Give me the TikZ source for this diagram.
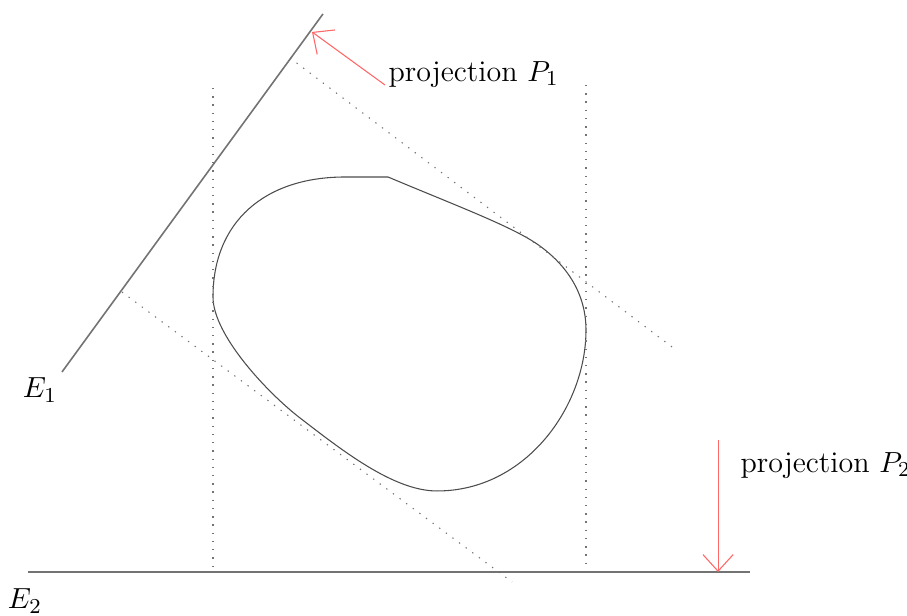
\documentclass[tikz,border=0pt]{standalone}
\usetikzlibrary{arrows.meta}

\begin{document}
\begin{tikzpicture}[
  axis/.style={black!55, semithick},
  proj/.style={black!55, dash pattern=on 0.5pt off 2.6pt},
  arr/.style={red!60, -{Straight Barb[length=2.2mm,width=4mm]}},
  lbl/.style={font=\fontsize{11.3}{13}\selectfont, inner sep=0pt}]
\useasboundingbox (0,0) rectangle (12,8.137);

% Axes E1 and E2
\coordinate (E1a) at (0.82,3.215);
\coordinate (E1b) at (4.273,7.952);
\coordinate (E2a) at (0.37,0.569);
\coordinate (E2b) at (9.923,0.569);
\draw[axis] (E1a) -- (E1b);
\draw[axis] (E2a) -- (E2b);
\node[lbl] (lE1) at (0.529,2.975) {$E_1$};
\node[lbl] (lE2) at (0.331,0.185) {$E_2$};

% The convex body
\draw[black!70] (5.134,5.795) .. controls (6.0,5.43) and (6.75,5.15) .. (7.105,4.909)
  .. controls (7.55,4.6) and (7.753,4.2) .. (7.753,3.771)
  .. controls (7.753,2.75) and (6.95,1.64) .. (5.782,1.641)
  .. controls (5.2,1.64) and (4.5,2.2) .. (3.969,2.607)
  .. controls (3.55,2.93) and (2.818,3.7) .. (2.818,4.208)
  .. controls (2.818,5.2) and (3.5,5.795) .. (4.565,5.795) -- cycle;

% Supporting lines for P1 (perpendicular to E1)
\coordinate (S1a) at (3.837,7.37);
\coordinate (S1b) at (8.944,3.506);
\coordinate (S2a) at (1.614,4.273);
\coordinate (S2b) at (6.774,0.437);
\draw[proj] (S1a) -- (S1b);
\draw[proj] (S2a) -- (S2b);

% Supporting lines for P2 (vertical)
\coordinate (V1a) at (2.818,6.973);
\coordinate (V1b) at (2.818,0.569);
\coordinate (V2a) at (7.753,7.012);
\coordinate (V2b) at (7.753,0.569);
\draw[proj] (V1a) -- (V1b);
\draw[proj] (V2a) -- (V2b);

% Projection arrows
\coordinate (P1tail) at (5.094,7.012);
\coordinate (P1head) at (4.128,7.714);
\coordinate (P2tail) at (9.5,2.315);
\coordinate (P2head) at (9.5,0.569);
\draw[arr] (P1tail) -- (P1head);
\draw[arr] (P2tail) -- (P2head);
\node[lbl, anchor=west] (lP1) at (5.134,7.15) {projection $P_1$};
\node[lbl, anchor=west] (lP2) at (9.791,1.975) {projection $P_2$};

\end{tikzpicture}
\end{document}
